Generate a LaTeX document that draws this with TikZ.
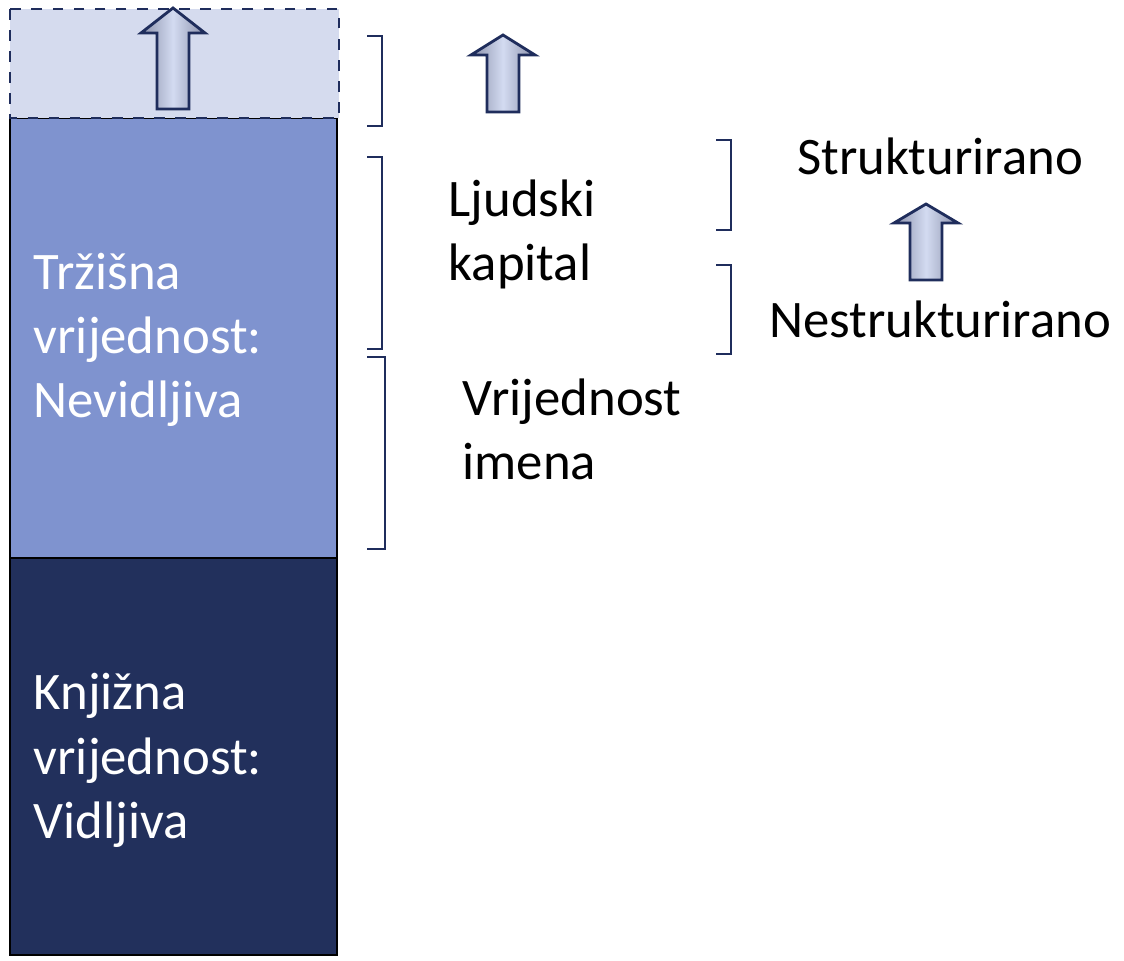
\documentclass[tikz,border=0pt]{standalone}
\usepackage{fontspec}
\setmainfont{Carlito}
\usetikzlibrary{positioning}
\definecolor{navy}{HTML}{1F2D5C}
\definecolor{deep}{HTML}{22305C}
\definecolor{mid}{HTML}{7F93CF}
\definecolor{pale}{HTML}{D5DBEE}
\definecolor{agrey}{HTML}{8A90AA}
\definecolor{alight}{HTML}{D3DBF1}
\tikzstyle{lbl}=[inner sep=0,anchor=base west,align=left,font=\fontsize{15}{18.2}\selectfont]
\tikzstyle{wlbl}=[lbl,text=white]
\tikzstyle{blk}=[draw=black,line width=0.7pt]
\tikzstyle{brk}=[draw=navy,line width=0.8pt]
\tikzstyle{uparr}=[draw=navy,line width=0.8pt,left color=agrey,right color=agrey,middle color=alight]
\newcommand{\sqbrk}[4]{\draw[brk] (#1,#2) -| (#3,#4) -- (#1,#4);}
\newcommand{\upar}[4]{\path[uparr] (#1,#2) -- ++(32,#4) -- ++(-16,0) -- ++(0,{#3-#4}) -- ++(-32,0) -- ++(0,{#4-#3}) -- ++(-16,0) -- cycle;}

\begin{document}
\begin{tikzpicture}[x=0.01cm,y=-0.01cm]
  \useasboundingbox (0,0) rectangle (1124,961);
  % the column
  \draw[blk,fill=mid] (10,118) rectangle (337,558);
  \draw[blk,fill=deep] (10,558) rectangle (337,955);
  \draw[draw=navy,dashed,line width=0.8pt,fill=pale] (10,9) rectangle (339,118);
  \upar{173}{8}{101}{25};
  \node[wlbl] (trz) at (33,418) {Tržišna\\vrijednost:\\Nevidljiva};
  \node[wlbl] (knj) at (33,838) {Knjižna\\vrijednost:\\Vidljiva};
  % brackets
  \sqbrk{367}{36}{382}{126};
  \sqbrk{367}{157}{382}{349};
  \sqbrk{367}{357}{385}{549};
  \sqbrk{716}{140}{731}{230};
  \sqbrk{716}{265}{731}{354};
  \upar{503}{35}{77}{20};
  \upar{926}{204}{76}{19};
  \node[lbl] (ljud) at (448,281) {Ljudski\\kapital};
  \node[lbl] (ime) at (462,480) {Vrijednost\\imena};
  \node[lbl,anchor=base] (str) at (940,175) {Strukturirano};
  \node[lbl,anchor=base] (nestr) at (940,338) {Nestrukturirano};
\end{tikzpicture}
\end{document}
